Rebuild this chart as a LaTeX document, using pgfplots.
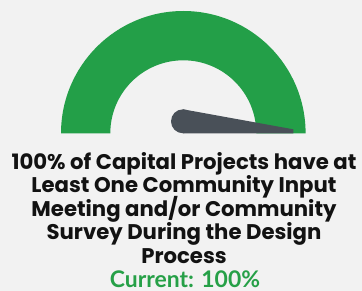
\documentclass[border=0pt]{standalone}
\usepackage{pgfplots}
\pgfplotsset{compat=1.18}
\usepackage{fontspec}
\setmainfont{Poppins}
\newfontfamily\curfont{Lato}
\definecolor{bg}{HTML}{F2F2F2}
\definecolor{gaugegreen}{HTML}{239F48}
\definecolor{needle}{HTML}{495058}
\definecolor{curgreen}{HTML}{26A047}
\begin{document}
\begin{tikzpicture}
\begin{axis}[
  x=1bp, y=1bp,
  xmin=0, xmax=362, ymin=0, ymax=291,
  hide axis, clip=false,
  scale only axis,
]
\fill[bg] (axis cs:0,0) rectangle (axis cs:362,291);
% gauge: current 100 of 100 -> full green arc
\fill[gaugegreen] (axis cs:61,157.7) arc[start angle=180, end angle=0, radius=122.3bp]
  -- (axis cs:256.3,157.7) arc[start angle=0, end angle=180, radius=73bp] -- cycle;
% needle at 100%
\addplot[fill=needle, draw=none] coordinates {(183,181.7) (293.3,161.7) (293.3,157.7) (183,157.7)} -- cycle;
\fill[needle] (axis cs:183,169.7) circle[radius=12bp];
% title
\node[anchor=base, font=\fontsize{21.3}{21}\selectfont\bfseries, text=black!93] at (axis cs:184,122) {100\% of Capital Projects have at};
\node[anchor=base, font=\fontsize{21.3}{21}\selectfont\bfseries, text=black!93] at (axis cs:184,98.5) {Least One Community Input};
\node[anchor=base, font=\fontsize{21.3}{21}\selectfont\bfseries, text=black!93] at (axis cs:184,75) {Meeting and/or Community};
\node[anchor=base, font=\fontsize{21.3}{21}\selectfont\bfseries, text=black!93] at (axis cs:184,51.5) {Survey During the Design};
\node[anchor=base, font=\fontsize{21.3}{21}\selectfont\bfseries, text=black!93] at (axis cs:184,27.7) {Process};
\node[anchor=base, font=\curfont\fontsize{23}{23}\selectfont\bfseries, text=curgreen] at (axis cs:185,3.7) {Current: 100\%};
\end{axis}
\end{tikzpicture}
\end{document}
